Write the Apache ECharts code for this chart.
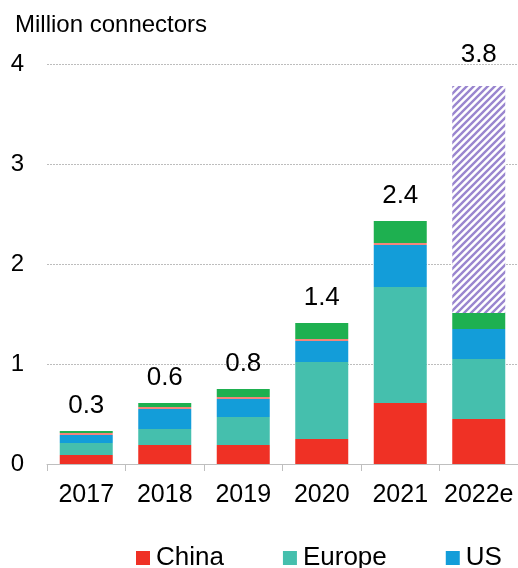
<!DOCTYPE html>
<html>
<head>
<meta charset="utf-8">
<script src="https://cdn.jsdelivr.net/npm/echarts@6/dist/echarts.min.js"></script>
<style>
html,body{margin:0;padding:0;background:#fff;}
#chart{width:518px;height:568px;}
</style>
</head>
<body>
<div id="chart"></div>
<script>
var categories = ['2017', '2018', '2019', '2020', '2021', '2022e'];
var china = [0.09, 0.19, 0.19, 0.25, 0.61, 0.45];
var europe = [0.12, 0.16, 0.28, 0.77, 1.16, 0.60];
var us = [0.08, 0.20, 0.18, 0.21, 0.42, 0.30];
var other = [0.02, 0.02, 0.02, 0.02, 0.02, 0];
var restOfWorld = [0.02, 0.04, 0.08, 0.16, 0.22, 0.16];
var forecast = [null, null, null, null, null, 2.27];
var totalLabels = ['0.3', '0.6', '0.8', '1.4', '2.4', '3.8'];
var yTicks = [0, 1, 2, 3, 4];

var FONT = '"Liberation Sans", Arial, sans-serif';

function hatch() {
  var s = 7;
  var c = document.createElement('canvas');
  c.width = s; c.height = s;
  var g = c.getContext('2d');
  g.fillStyle = '#ffffff';
  g.fillRect(0, 0, s, s);
  g.strokeStyle = '#9A86CF';
  g.lineWidth = 2.4;
  g.beginPath();
  g.moveTo(-1, s + 1); g.lineTo(s + 1, -1);
  g.moveTo(-s - 1, s + 1); g.lineTo(s + 1, -s - 1);
  g.moveTo(-1, 2 * s + 1); g.lineTo(2 * s + 1, -1);
  g.stroke();
  return c;
}

function seg(name, data, color) {
  return {
    name: name, type: 'bar', stack: 'all', barWidth: 53,
    data: data,
    itemStyle: {color: color},
    emphasis: {disabled: true}
  };
}

var labelStyle = {fontFamily: FONT, fontSize: 26, color: '#000'};

var rowData = restOfWorld.map(function (v, i) {
  return {value: v, label: {show: i < 5}};
});
var fcData = forecast.map(function (v, i) {
  return {value: v, label: {show: v != null, distance: 18}};
});

var chart = echarts.init(document.getElementById('chart'), null, {renderer: 'canvas'});
chart.setOption({
  animation: false,
  title: {
    text: 'Million connectors', left: 10, top: 8,
    textStyle: {fontFamily: FONT, fontSize: 24, fontWeight: 'normal', color: '#000'}
  },
  legend: {
    data: ['China', 'Europe', 'US'],
    left: 136, top: 545, padding: 0,
    itemWidth: 14, itemHeight: 14, itemGap: 59,
    icon: 'rect',
    textStyle: {fontFamily: FONT, fontSize: 26, color: '#000', padding: [0, 0, 0, 1]}
  },
  grid: {left: 47, top: 64, width: 473, height: 400, containLabel: false},
  xAxis: {
    type: 'category', data: categories,
    axisLine: {lineStyle: {color: '#BFBFBF', width: 1}},
    axisTick: {show: true, length: 7, lineStyle: {color: '#BFBFBF'}},
    axisLabel: {fontFamily: FONT, fontSize: 25, color: '#000', margin: 19, interval: 0}
  },
  yAxis: {
    type: 'value', min: yTicks[0], max: yTicks[yTicks.length - 1], interval: 1,
    axisLine: {show: false}, axisTick: {show: false},
    axisLabel: {fontFamily: FONT, fontSize: 24, color: '#000', margin: 23},
    splitLine: {lineStyle: {color: '#BDBDBD', type: [2, 1], width: 1}}
  },
  series: [
    seg('China', china, '#EF3125'),
    seg('Europe', europe, '#45BFAD'),
    seg('US', us, '#139DD9'),
    seg('Other', other, '#F4857C'),
    Object.assign(seg('Rest of world', rowData, '#1EB050'), {
      label: Object.assign({position: 'top', distance: 12, formatter: function (p) { return totalLabels[p.dataIndex]; }}, labelStyle)
    }),
    {
      name: 'Forecast', type: 'bar', stack: 'all', barWidth: 53,
      data: fcData,
      itemStyle: {color: {image: hatch(), repeat: 'repeat'}},
      emphasis: {disabled: true},
      label: Object.assign({position: 'top', formatter: function (p) { return totalLabels[p.dataIndex]; }}, labelStyle)
    }
  ]
});
</script>
</body>
</html>
